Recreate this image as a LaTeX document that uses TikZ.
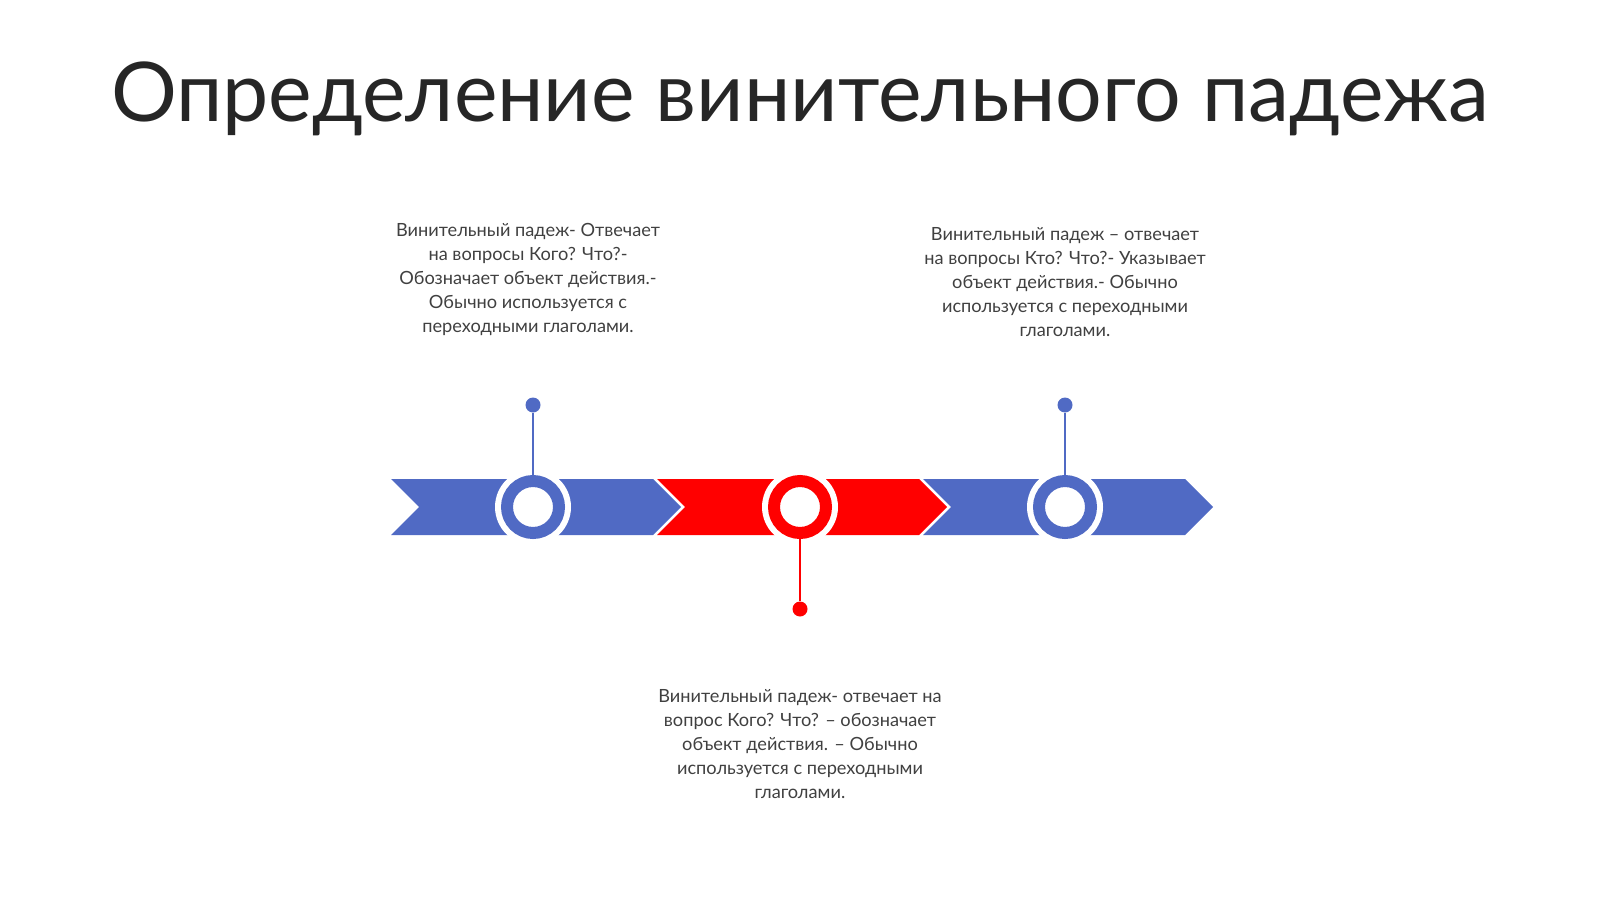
\documentclass[tikz,border=0pt]{standalone}
\usepackage{fontspec}
\setmainfont{Lato}
\usetikzlibrary{positioning}
\definecolor{tlblue}{RGB}{80,106,196}
\definecolor{tlred}{RGB}{255,0,0}
\definecolor{txtgray}{RGB}{64,64,64}
\definecolor{titlegray}{RGB}{38,38,38}

\begin{document}
\begin{tikzpicture}[x=0.5pt,y=-0.5pt,
  halo/.style={shape=circle,fill=white,minimum size=38pt,inner sep=0pt},
  ring/.style={shape=circle,draw=#1,line width=6pt,fill=white,minimum size=26pt,inner sep=0pt},
  pin/.style={shape=circle,fill=#1,minimum size=7.5pt,inner sep=0pt},
  stem/.style={draw=#1,line width=1pt},
  note/.style={align=center,font=\fontsize{9.1}{12}\selectfont,text=txtgray}]
  \useasboundingbox (0,0) rectangle (1600,899);
  \node[font=\fontsize{41.2}{48}\selectfont,text=titlegray,anchor=base] (title) at (800,121) {Определение винительного падежа};
  % chevrons
  \fill[tlblue] (391,479) -- (653,479) -- (681,507) -- (653,535) -- (391,535) -- (419,507) -- cycle;
  \fill[tlred] (657,479) -- (919,479) -- (947,507) -- (919,535) -- (657,535) -- (685,507) -- cycle;
  \fill[tlblue] (923,479) -- (1185,479) -- (1213,507) -- (1185,535) -- (923,535) -- (951,507) -- cycle;
  % milestones
  \node[halo] (h1) at (533,507) {};
  \node[halo] (h2) at (800,507) {};
  \node[halo] (h3) at (1065,507) {};
  \node[pin=tlblue] (d1) at (533,405) {};
  \node[pin=tlred] (d2) at (800,609) {};
  \node[pin=tlblue] (d3) at (1065,405) {};
  \node[ring=tlblue] (c1) at (533,507) {};
  \node[ring=tlred] (c2) at (800,507) {};
  \node[ring=tlblue] (c3) at (1065,507) {};
  \path [stem=tlblue](d1) edge (c1);
  \path [stem=tlred](d2) edge (c2);
  \path [stem=tlblue](d3) edge (c3);
  % texts
  \node[note] (t1) at (528,279) {Винительный падеж- Отвечает\\на вопросы Кого? Что?-\\Обозначает объект действия.-\\Обычно используется с\\переходными глаголами.};
  \node[note] (t2) at (1065,282) {Винительный падеж – отвечает\\на вопросы Кто? Что?- Указывает\\объект действия.- Обычно\\используется с переходными\\глаголами.};
  \node[note] (t3) at (800,744) {Винительный падеж- отвечает на\\вопрос Кого? Что? – обозначает\\объект действия. – Обычно\\используется с переходными\\глаголами.};
\end{tikzpicture}
\end{document}
